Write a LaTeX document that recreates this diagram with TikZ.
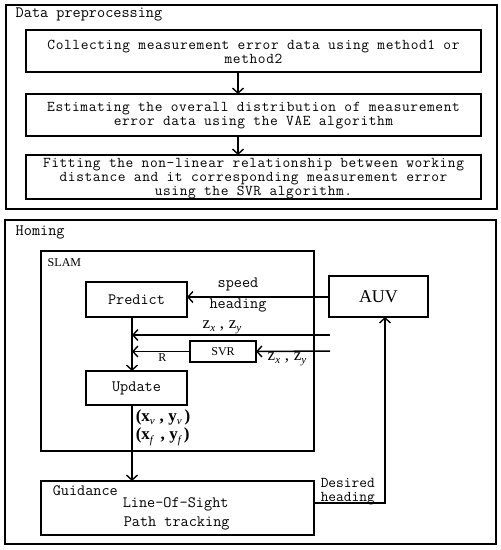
\documentclass[tikz,border=0pt]{standalone}
\usepackage{fontspec}
\newfontfamily\tms{Liberation Serif}
\newfontfamily\monols[LetterSpace=4]{Latin Modern Mono}
\usetikzlibrary{arrows.meta}
\newcommand\mysub[1]{\raisebox{-3.5pt}{\mdseries\itshape\fontsize{11}{11}\selectfont #1}}
\begin{document}
\begin{tikzpicture}[x=1pt,y=-1pt,line width=1.5pt,
  box/.style={draw,line width=1.5pt,inner sep=0pt,outer sep=0pt},
  outer/.style={draw,line width=1.6pt,inner sep=0pt,outer sep=0pt},
  arr/.style={-{Straight Barb[length=5pt,width=11pt,line width=1.4pt]}},
  mono/.style={font=\ttfamily\fontsize{15.8}{14}\selectfont},
  mtext/.style={font=\monols\fontsize{15}{14}\selectfont},
  serif/.style={font=\tms\fontsize{12}{14}\selectfont},
  mth/.style={font=\tms\fontsize{17}{17}\selectfont,inner sep=0pt},
  mthb/.style={font=\tms\bfseries\fontsize{17}{17}\selectfont,inner sep=0pt},
  lbl/.style={inner sep=0pt,anchor=base west}]
\useasboundingbox (0,0) rectangle (501,550);
% Data preprocessing
\node[outer,minimum width=491pt,minimum height=204pt] (top) at (251.5,107) {};
\node[lbl,mono] (toplbl) at (15,17.5) {Data preprocessing};
\node[box,minimum width=455pt,minimum height=42pt] (c1) at (253.5,51) {};
\node[box,minimum width=455pt,minimum height=42pt] (c2) at (253.5,115) {};
\node[box,minimum width=455pt,minimum height=44pt] (c3) at (253.5,177) {};
\node[mtext,align=center,inner sep=0pt] (t1) at (253.5,52) {Collecting measurement error data using method1 or\\method2};
\node[mtext,align=center,inner sep=0pt] (t2) at (253.5,115.5) {Estimating the overall distribution of measurement\\error data using the VAE algorithm};
\node[mtext,align=center,inner sep=0pt] (t3) at (253.5,179) {Fitting the non-linear relationship between working\\distance and it corresponding measurement error\\using the SVR algorithm.};
\coordinate (tx) at (238,0);
\draw[arr] (c1.south -| tx) -- (c2.north -| tx);
\draw[arr] (c2.south -| tx) -- (c3.north -| tx);
% Homing
\node[outer,minimum width=491pt,minimum height=324pt] (bot) at (250.5,382) {};
\node[lbl,mono] (botlbl) at (15,235) {Homing};
\node[box,minimum width=273pt,minimum height=200pt] (slam) at (177.5,351) {};
\node[lbl,serif] (slamlbl) at (47,266.5) {SLAM};
\node[box,mono,minimum width=101pt,minimum height=35pt] (pred) at (136.5,299.5) {Predict};
\node[box,mono,minimum width=101pt,minimum height=34pt] (upd) at (136.5,388) {Update};
\node[box,font=\tms\fontsize{18}{20}\selectfont,minimum width=99pt,minimum height=41pt] (auv) at (378.5,296.5) {AUV};
\node[box,serif,minimum width=66pt,minimum height=21pt] (svr) at (223,351.5) {SVR};
\node[box,minimum width=273pt,minimum height=54pt] (guid) at (177.5,508) {};
\node[lbl,mono] (guidlbl) at (52,495) {Guidance};
\node[lbl,mono] (los) at (122,507.5) {Line-Of-Sight};
\node[lbl,mono] (pt) at (123,526.5) {Path tracking};
% connectors
\coordinate (sp) at (132,0);
\coordinate (ah) at (0,297);
\coordinate (zin) at (330,335);
\coordinate (zin2) at (330,351);
\coordinate (dh) at (385,503);
\draw[arr] (auv.west |- ah) -- (pred.east |- ah);
\node[mono,inner sep=0pt] (speed) at (238,284) {speed};
\node[mono,inner sep=0pt] (heading) at (238,305) {heading};
\draw[arr] (pred.south -| sp) -- (upd.north -| sp);
\draw[arr] (zin) -- (zin -| sp);
\node[mth] (z1) at (222,327.5) {z\mysub{x}\;,\;z\mysub{y}};
\draw[arr] (zin2) -- (svr.east);
\draw[arr] (svr.west) -- (svr.west -| sp);
\node[serif,inner sep=0pt] (rl) at (162.5,358) {R};
\node[mth] (z2) at (287,359.5) {z\mysub{x}\;,\;z\mysub{y}};
\draw[arr] (upd.south -| sp) -- (guid.north -| sp);
\node[mthb,anchor=west] (xv) at (135,417) {(x\mysub{v}\;,\;y\mysub{v}\,)};
\node[mthb,anchor=west] (xf) at (135,437) {(x\mysub{f}\;\,,\;y\mysub{f}\,)};
\draw[arr] (dh -| guid.east) -- (dh) -- (auv.south -| dh);
\node[lbl,mono,font=\ttfamily\fontsize{15}{14}\selectfont] (des) at (320,487) {Desired};
\node[lbl,mono,font=\ttfamily\fontsize{15}{14}\selectfont] (desh) at (320,501) {heading};
\end{tikzpicture}
\end{document}
